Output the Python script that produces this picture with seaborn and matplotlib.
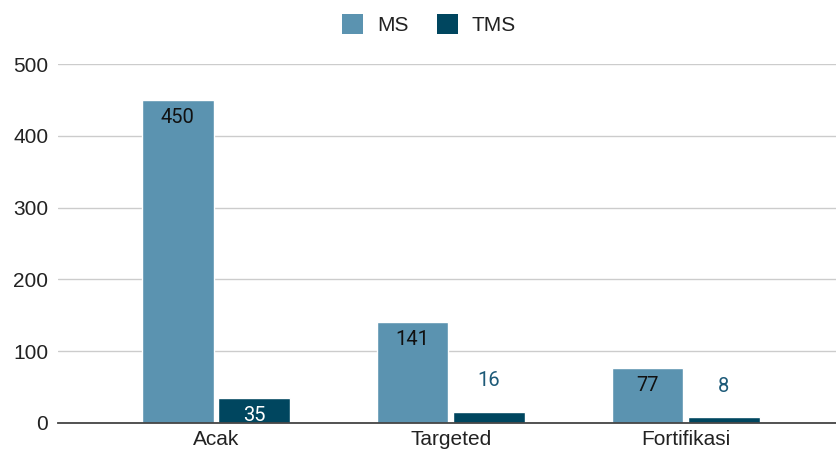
import matplotlib
matplotlib.use("Agg")
import matplotlib.pyplot as plt
import seaborn as sns
import pandas as pd
from matplotlib.patches import Patch

categories = ["Acak", "Targeted", "Fortifikasi"]
ms_values = [450, 141, 77]
tms_values = [35, 16, 8]
series = ["MS", "TMS"]
colors = {"MS": "#5b93b0", "TMS": "#00465f"}
yticks = [0, 100, 200, 300, 400, 500]

df = pd.DataFrame({
    "cat": categories * 2,
    "series": ["MS"] * len(categories) + ["TMS"] * len(categories),
    "val": ms_values + tms_values,
})

sns.set_theme(style="white")
plt.rcParams["font.family"] = ["Liberation Sans", "DejaVu Sans"]

fig = plt.figure(figsize=(8.36, 4.55), dpi=100)
ax = fig.add_axes([58 / 836, 1 - 423 / 455, 1 - 58 / 836, (423 - 64) / 455])

sns.barplot(data=df, x="cat", y="val", hue="series", order=categories,
            hue_order=series, palette=colors, width=0.65, gap=0.06,
            ax=ax, legend=False, saturation=1)

ax.set_ylim(0, 500)
ax.set_xlim(-0.672, 2.64)
ax.set_yticks(yticks)
ax.set_yticklabels([str(t) for t in yticks], fontsize=15, color="#222222")
ax.tick_params(axis="x", labelsize=15, colors="#222222", length=0, pad=5)
ax.tick_params(axis="y", length=0, pad=7)
ax.set_xlabel("")
ax.set_ylabel("")
for s in ["top", "right", "left"]:
    ax.spines[s].set_visible(False)
ax.spines["bottom"].set_color("#444444")
ax.spines["bottom"].set_linewidth(1.3)
ax.yaxis.grid(True, color="#cccccc", linewidth=1)
ax.set_axisbelow(True)

# data labels
for container, name in zip(ax.containers, series):
    for bar, v in zip(container, df[df.series == name]["val"]):
        x = bar.get_x() + bar.get_width() / 2
        h = bar.get_height()
        if v >= 30:
            col = "#111111" if name == "MS" else "white"
            ax.annotate(str(v), (x, h), xytext=(0, -12.5), textcoords="offset points",
                        ha="center", va="center", fontsize=14.5, color=col,
                        family=["Roboto", "DejaVu Sans"])
        else:
            ax.annotate(str(v), (x, h), xytext=(0, 22.5), textcoords="offset points",
                        ha="center", va="center", fontsize=14.5, color="#1d5a78",
                        family=["Roboto", "DejaVu Sans"])

handles = [Patch(facecolor=colors[s], edgecolor="none", label=s) for s in series]
fig.legend(handles=handles, loc="upper center", bbox_to_anchor=(0.513, 1.01),
           ncol=2, frameon=False, fontsize=15, handlelength=1.05, handleheight=1.05,
           columnspacing=1.35, handletextpad=0.65, labelcolor="#222222")

fig.savefig("out.png", dpi=100)
